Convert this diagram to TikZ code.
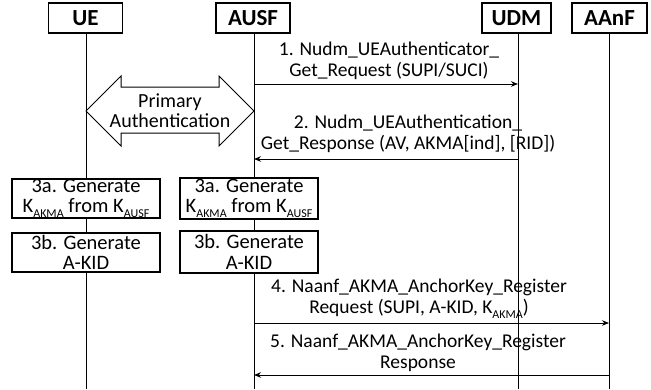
\documentclass[tikz,border=0pt]{standalone}
\usepackage{fontspec}
\setmainfont{Carlito}
\usetikzlibrary{arrows.meta}
\newcommand\mysub[1]{\raisebox{-0.25em}{\fontsize{12}{12}\selectfont #1}}
\begin{document}
\begin{tikzpicture}[x=1pt,y=-1pt,
  hdr/.style={draw,line width=1.1pt,minimum height=30pt,inner sep=0pt,font=\fontsize{23}{26}\selectfont\bfseries},
  life/.style={line width=0.9pt},
  msg/.style={line width=0.9pt,-{Stealth[length=7pt,width=5.5pt]}},
  lbl/.style={align=center,inner sep=0pt,font=\fontsize{19.5}{21}\selectfont},
  stepbox/.style={draw,line width=1.1pt,fill=white,align=center,inner sep=0pt,font=\fontsize{20.5}{20.5}\selectfont}]
\useasboundingbox (0,0) rectangle (651,389);
% headers
\node[hdr,minimum width=74pt] (ue) at (85.5,18) {UE};
\node[hdr,minimum width=74pt] (ausf) at (253,18) {AUSF};
\node[hdr,minimum width=69pt] (udm) at (516.5,18) {UDM};
\node[hdr,minimum width=75pt] (aanf) at (609.5,18) {AAnF};
\coordinate (ueb) at (86,389);
\coordinate (ausfb) at (254,389);
\coordinate (udmb) at (518,389);
\coordinate (aanfb) at (609,389);
\draw[life] (ue.south -| ueb) -- (ueb);
\draw[life] (ausf.south -| ausfb) -- (ausfb);
\draw[life] (udm.south -| udmb) -- (udmb);
\draw[life] (aanf.south -| aanfb) -- (aanfb);
% message 1
\coordinate (a1s) at (254,84);
\coordinate (a1e) at (518,84);
\draw[msg] (a1s) -- (a1e);
\node[lbl] (l1) at (389,61) {1. Nudm\_UEAuthenticator\_\\Get\_Request (SUPI/SUCI)};
% primary authentication
\draw[line width=1pt,fill=white] (86,111) -- (121,76) -- (121,87) -- (219,87) -- (219,76) -- (254,111) -- (219,146) -- (219,133) -- (121,133) -- (121,146) -- cycle;
\node[lbl,font=\fontsize{20}{19.5}\selectfont] (pa) at (170,110.5) {Primary\\Authentication};
% message 2
\coordinate (a2s) at (518,159);
\coordinate (a2e) at (254,159);
\draw[msg] (a2s) -- (a2e);
\node[lbl] (l2) at (408,134) {2. Nudm\_UEAuthentication\_\\Get\_Response (AV, AKMA[ind], [RID])};
% step 3
\node[stepbox,minimum width=148pt,minimum height=39pt] (s3aue) at (86,198.5) {3a. Generate\\K\mysub{AKMA} from K\mysub{AUSF}};
\node[stepbox,minimum width=138pt,minimum height=41pt] (s3aausf) at (249,198.5) {3a. Generate\\K\mysub{AKMA} from K\mysub{AUSF}};
\node[stepbox,minimum width=148pt,minimum height=39pt] (s3bue) at (86,252.5) {3b. Generate\\A-KID};
\node[stepbox,minimum width=138pt,minimum height=42pt] (s3bausf) at (249,252) {3b. Generate\\A-KID};
% message 4
\coordinate (a4s) at (254,323);
\coordinate (a4e) at (609,323);
\draw[msg] (a4s) -- (a4e);
\node[lbl] (l4) at (419,299) {4. Naanf\_AKMA\_AnchorKey\_Register\\Request (SUPI, A-KID, K\mysub{AKMA})};
% message 5
\coordinate (a5s) at (609,375);
\coordinate (a5e) at (254,375);
\draw[msg] (a5s) -- (a5e);
\node[lbl] (l5) at (418,353) {5. Naanf\_AKMA\_AnchorKey\_Register\\Response};
\end{tikzpicture}
\end{document}
